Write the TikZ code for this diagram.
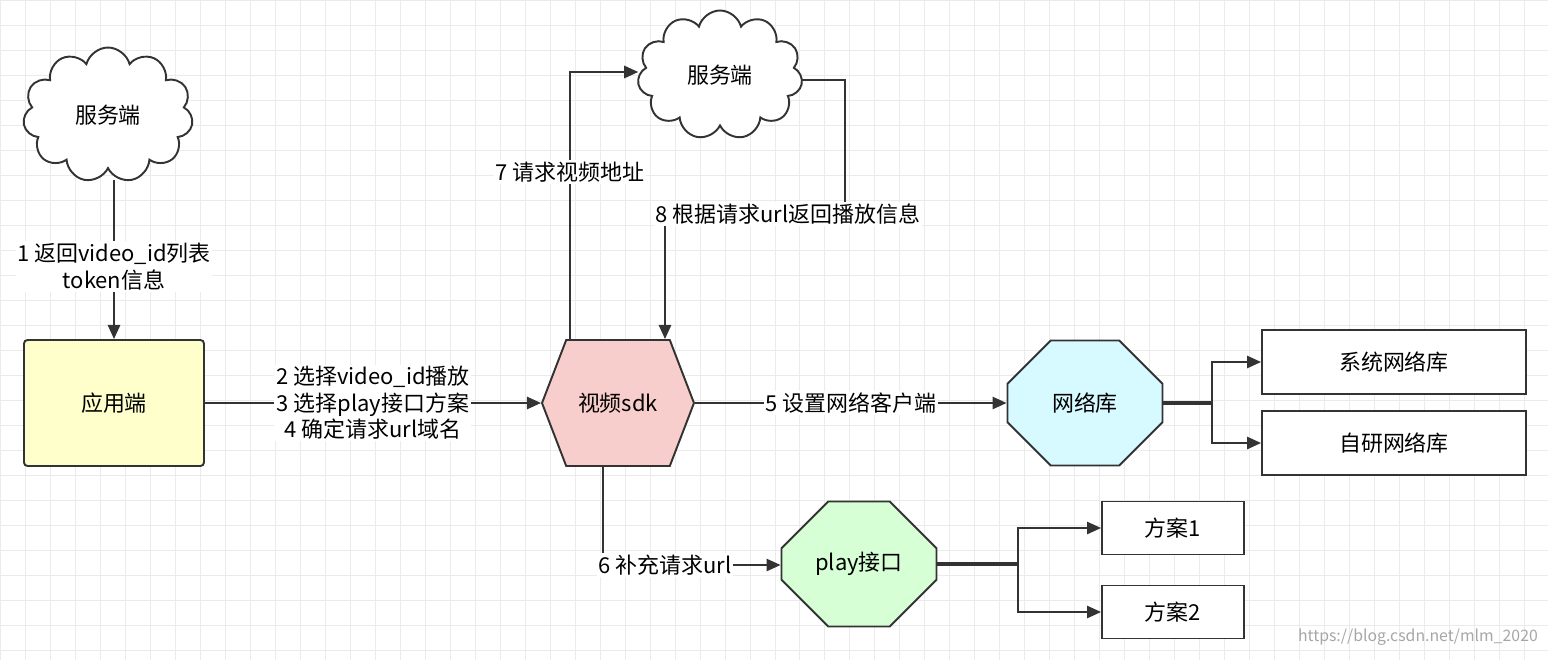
\documentclass[tikz,border=0pt]{standalone}
\usepackage{fontspec}
\setmainfont{Noto Sans CJK SC}
\usetikzlibrary{arrows.meta,positioning,shapes.symbols,shapes.misc}
\definecolor{appfill}{RGB}{255,255,204}
\definecolor{sdkfill}{RGB}{248,206,204}
\definecolor{netfill}{RGB}{214,250,255}
\definecolor{playfill}{RGB}{214,255,214}
\tikzset{
    arrow/.style={-{Triangle[length=8pt,width=7pt]}, line width=1.1pt, draw=black!80},
    line/.style={line width=1.1pt, draw=black!80},
    thickline/.style={line width=1.8pt, draw=black!80},
    lbl/.style={fill=white, inner sep=1pt, align=center, font=\fontsize{12.5}{15}\selectfont},
    cloudbox/.style={cloud, cloud puffs=11, draw=black!80, line width=1.1pt, fill=white,
      font=\fontsize{12.5}{15}\selectfont},
    box/.style={rectangle, draw=black!80, line width=1.1pt, fill=white,
      font=\fontsize{12.5}{15}\selectfont},
    octa/.style={chamfered rectangle, chamfered rectangle xsep=0.7cm, chamfered rectangle ysep=0.7cm,
      draw=black!80, line width=1.1pt, minimum width=3.1cm, minimum height=2.5cm, inner sep=0pt,
      font=\fontsize{12.5}{15}\selectfont},
}
\begin{document}
\begin{tikzpicture}[x=0.02cm,y=-0.02cm]
  \useasboundingbox (0,0) rectangle (1548,660);
  \draw[black!8] (0,0) grid[step=0.5cm] (1548,660);

  % nodes
  \node[cloudbox, minimum width=3.4cm, minimum height=2.7cm] (server1) at (108,115) {服务端};
  \node[cloudbox, minimum width=3.3cm, minimum height=2.3cm] (server2) at (720,75) {服务端};
  \node[box, rounded corners=2pt, fill=appfill, minimum width=3.6cm, minimum height=2.52cm] (app) at (114,403) {应用端};
  \node[signal, signal to=east and west, signal pointer angle=138, draw=black!80, line width=1.1pt,
    fill=sdkfill, minimum width=3.04cm, minimum height=2.52cm, inner sep=0pt,
    font=\fontsize{12.5}{15}\selectfont] (sdk) at (618,403) {视频sdk};
  \node[octa, fill=netfill] (net) at (1085,403) {网络库};
  \node[octa, fill=playfill] (play) at (859,564) {play接口};
  \node[box, minimum width=5.28cm, minimum height=1.28cm] (sysnet) at (1394,362) {系统网络库};
  \node[box, minimum width=5.28cm, minimum height=1.28cm] (ownnet) at (1394,443) {自研网络库};
  \node[box, minimum width=2.84cm, minimum height=1.06cm] (plan1) at (1173,528) {方案1};
  \node[box, minimum width=2.84cm, minimum height=1.06cm] (plan2) at (1173,612) {方案2};

  \coordinate (c1) at (114,180);
  \coordinate (c7) at (570,72);
  \coordinate (c8a) at (845,80);
  \coordinate (c8b) at (845,214);
  \coordinate (c8c) at (665,214);
  \coordinate (c6) at (603,565);
  \coordinate (netfork) at (1212,403);
  \coordinate (playfork) at (1018,564);

  % connectors
  \draw[arrow] (c1) -- (c1 |- app.north)
    node[lbl, midway, yshift=-4pt] {1 返回video\_id列表\\token信息};
  \draw[arrow] (app.east) -- (sdk.west)
    node[lbl, midway] {2 选择video\_id播放\\3 选择play接口方案\\4 确定请求url域名};
  \draw[arrow] (sdk.north -| c7) -- (c7) -- (server2.west |- c7);
  \node[lbl] (lbl7) at (570,172) {7 请求视频地址};
  \draw[arrow] (server2.east |- c8a) -- (c8a) -- (c8b) -- (c8c) -- (c8c |- sdk.north);
  \node[lbl] (lbl8) at (788,214) {8 根据请求url返回播放信息};
  \draw[arrow] (sdk.east) -- (net.west) node[lbl, midway] {5 设置网络客户端};
  \draw[arrow] (sdk.south -| c6) -- (c6) -- (play.west |- c6)
    node[lbl, pos=0.35] {6 补充请求url};
  \draw[thickline] (net.east) -- (netfork);
  \draw[arrow] (netfork) |- (sysnet.west);
  \draw[arrow] (netfork) |- (ownnet.west);
  \draw[thickline] (play.east |- playfork) -- (playfork);
  \draw[arrow] (playfork) |- (plan1.west);
  \draw[arrow] (playfork) |- (plan2.west);

  \node[text=black!35, font=\fontsize{9}{10}\selectfont, anchor=south east] (mark) at (1544,652) {https://blog.csdn.net/mlm\_2020};
\end{tikzpicture}
\end{document}
